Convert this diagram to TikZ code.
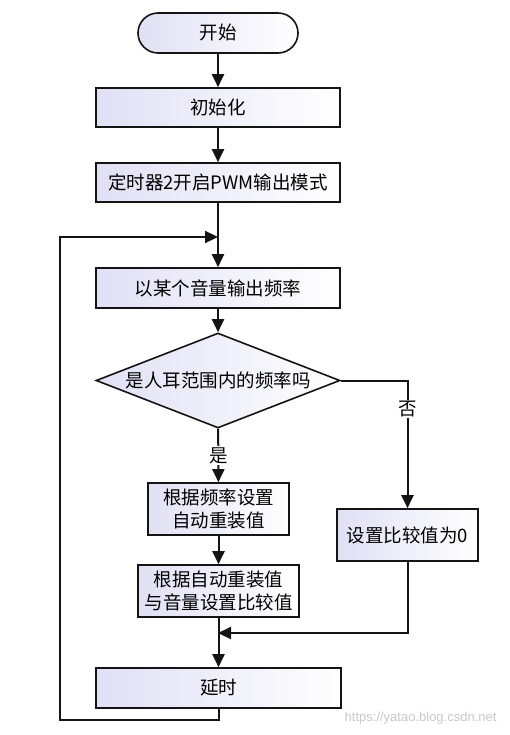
\documentclass[tikz,border=0pt]{standalone}
\usepackage{fontspec}
\setmainfont{Noto Sans CJK SC}
\newfontfamily\wmfont{Liberation Sans}
\usetikzlibrary{arrows.meta,shapes.geometric}
\definecolor{boxleft}{RGB}{224,224,245}
\definecolor{linec}{RGB}{20,20,20}
\tikzset{
  box/.style={draw=linec, line width=1.6pt, left color=boxleft, right color=white, inner sep=0pt, align=center, font=\fontsize{18.5}{23}\selectfont},
  term/.style={box, rounded corners=20pt},
  dec/.style={box, shape=diamond, aspect=2.57},
  conn/.style={draw=linec, line width=2pt, -{Triangle[length=13pt,width=12pt]}},
  lbl/.style={fill=white, inner sep=1pt, font=\fontsize{18.5}{23}\selectfont}
}
\begin{document}
\begin{tikzpicture}[x=1pt,y=-1pt]
\useasboundingbox (0,0) rectangle (510,735);
\node[term, minimum width=160pt, minimum height=40pt] (start) at (218,33) {开始};
\node[box, minimum width=244pt, minimum height=39pt] (init) at (218,107.5) {初始化};
\node[box, minimum width=244pt, minimum height=39pt] (timer) at (218,182.5) {定时器2开启PWM输出模式};
\node[box, minimum width=244pt, minimum height=40pt] (freq) at (218,288) {以某个音量输出频率};
\node[dec, minimum width=244pt, minimum height=95pt] (dec) at (218,380.5) {是人耳范围内的频率吗};
\node[box, minimum width=141pt, minimum height=52pt] (auto1) at (218.5,509) {根据频率设置\\自动重装值};
\node[box, minimum width=161pt, minimum height=52pt] (auto2) at (218.5,591) {根据自动重装值\\与音量设置比较值};
\node[box, minimum width=141pt, minimum height=52pt] (set0) at (407.5,535) {设置比较值为0};
\node[box, minimum width=245pt, minimum height=40pt] (delay) at (218.5,688) {延时};

\coordinate (jt) at (218,237);
\coordinate (lt) at (60,237);
\coordinate (lb) at (60,719.5);
\coordinate (jm) at (218,633);

\draw[conn] (start) -- (init);
\draw[conn] (init) -- (timer);
\draw[conn] (timer) -- (freq);
\draw[conn] (freq) -- (dec);
\draw[conn] (dec) -- node[lbl, pos=0.5] {是} (auto1);
\draw[conn] (auto1) -- (auto2);
\draw[conn] (auto2.south) -- (delay.north);
\draw[conn] (dec.east) -| node[lbl, pos=0.61] {否} (set0.north);
\draw[conn] (set0.south) |- (jm);
\draw[conn] (delay.south) |- (lb) -- (lt) -- (jt);

\node[text=black!22, font=\wmfont\fontsize{13}{15}\selectfont, anchor=east] (wm) at (500,718) {https://yatao.blog.csdn.net};
\end{tikzpicture}
\end{document}
